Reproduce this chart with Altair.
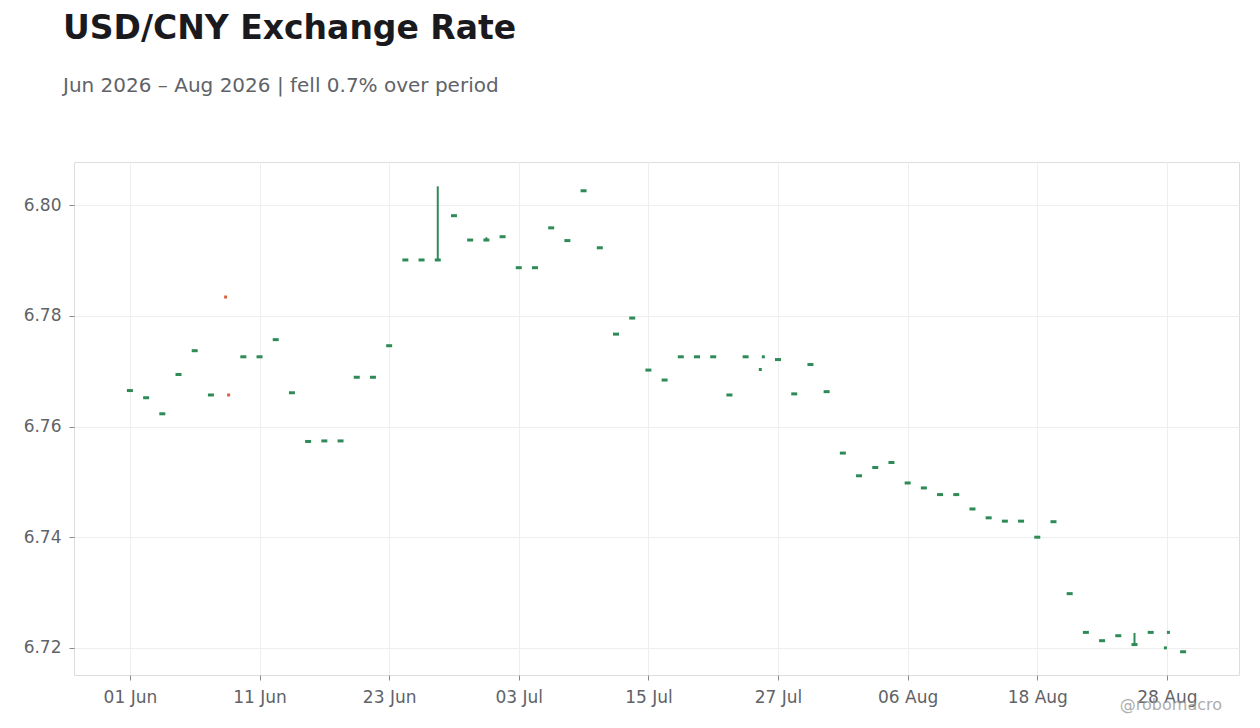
import altair as alt
import pandas as pd

# Business days Jun 1 - Aug 31 2026 (index axis, weekends skipped)
dates = [d.strftime("%d %b") for d in pd.bdate_range("2026-06-01", "2026-08-31")]

closes = [
    6.7665, 6.7652, 6.7623, 6.7694, 6.7737, 6.7657, 6.7657, 6.7726, 6.7726, 6.7757,
    6.7661, 6.7573, 6.7574, 6.7574, 6.7689, 6.7689, 6.7746, 6.7901, 6.7901, 6.7901,
    6.7981, 6.7937, 6.7937, 6.7943, 6.7887, 6.7887, 6.7959, 6.7936, 6.8026, 6.7923,
    6.7767, 6.7796, 6.7702, 6.7684, 6.7726, 6.7726, 6.7726, 6.7657, 6.7726, 6.7726,
    6.7721, 6.7659, 6.7712, 6.7663, 6.7552, 6.7511, 6.7526, 6.7535, 6.7498, 6.7489,
    6.7477, 6.7477, 6.7451, 6.7435, 6.7429, 6.7429, 6.7400, 6.7428, 6.7298, 6.7228,
    6.7213, 6.7222, 6.7206, 6.7228, 6.7228, 6.7193,
]
opens = list(closes)
opens[6] = 6.7834
opens[39] = 6.7703
opens[64] = 6.7200

highs = [max(o, c) for o, c in zip(opens, closes)]
lows = [min(o, c) for o, c in zip(opens, closes)]
highs[19] = 6.8034
highs[22] = 6.7942
highs[62] = 6.7227

tick_index = [0, 8, 16, 24, 32, 40, 48, 56, 64]
y_ticks = [6.72, 6.74, 6.76, 6.78, 6.80]

GREEN = "#2e8b57"
RED = "#d9603b"

df = pd.DataFrame({
    "i": list(range(len(dates))),
    "date": dates,
    "open": opens,
    "close": closes,
    "high": highs,
    "low": lows,
})

label_expr = "[" + ",".join("'%s'" % d for d in dates) + "][datum.value]"

x_enc = alt.X(
    "i:Q",
    scale=alt.Scale(domain=[-3.45, 68.45], nice=False, zero=False),
    axis=alt.Axis(values=tick_index, labelExpr=label_expr, title=None,
                  tickSize=5, labelPadding=9, grid=True),
)
y_scale = alt.Scale(domain=[6.7151, 6.8078], nice=False, zero=False)
y_axis = alt.Axis(values=y_ticks, format=".2f", title=None, tickSize=5,
                  labelPadding=8, grid=True)
color_scale = alt.Scale(domain=["up", "down"], range=[GREEN, RED])

base = alt.Chart(df).transform_calculate(
    dir="datum.close >= datum.open ? 'up' : 'down'",
    top="max(datum.open, datum.close)",
    bot="min(datum.open, datum.close)",
)

upper_wick = base.mark_rule(strokeWidth=2).encode(
    x=x_enc,
    y=alt.Y("high:Q", scale=y_scale, axis=y_axis),
    y2="top:Q",
    color=alt.Color("dir:N", scale=color_scale, legend=None),
)
lower_wick = base.mark_rule(strokeWidth=2).encode(
    x="i:Q",
    y=alt.Y("low:Q", scale=y_scale),
    y2="bot:Q",
    color=alt.Color("dir:N", scale=color_scale, legend=None),
)

body = base.transform_filter("datum.open == datum.close").mark_tick(
    orient="horizontal", size=6, thickness=3, opacity=1
).encode(
    x="i:Q",
    y=alt.Y("close:Q", scale=y_scale),
    color=alt.Color("dir:N", scale=color_scale, legend=None),
)

open_tick = base.transform_filter("datum.open != datum.close").mark_tick(
    orient="horizontal", size=3, thickness=3, opacity=1, xOffset=-1.5
).encode(
    x="i:Q",
    y=alt.Y("open:Q", scale=y_scale),
    color=alt.Color("dir:N", scale=color_scale, legend=None),
)

close_tick = base.transform_filter("datum.open != datum.close").mark_tick(
    orient="horizontal", size=3, thickness=3, opacity=1, xOffset=1.5
).encode(
    x="i:Q",
    y=alt.Y("close:Q", scale=y_scale),
    color=alt.Color("dir:N", scale=color_scale, legend=None),
)

watermark = alt.Chart(pd.DataFrame({"t": ["@robomacro"]})).mark_text(
    align="right", baseline="alphabetic", fontSize=16, color="#999999",
    opacity=0.8, font="DejaVu Sans",
).encode(text="t:N", x=alt.value(1148), y=alt.value(548))

chart = alt.layer(upper_wick, lower_wick, body, open_tick, close_tick, watermark).properties(
    width=1165,
    height=513,
    title=alt.TitleParams(
        text="USD/CNY Exchange Rate",
        subtitle="Jun 2026 – Aug 2026 | fell 0.7% over period",
        anchor="start",
        frame="group",
        dx=-11,
        offset=66,
        fontSize=33,
        fontWeight="bold",
        color="#1a1a1e",
        subtitleFontSize=20,
        subtitleColor="#5f6368",
        subtitlePadding=30,
        font="DejaVu Sans",
        subtitleFont="DejaVu Sans",
    ),
    autosize=alt.AutoSizeParams(type="none"),
    padding={"left": 66, "top": 154, "right": 13, "bottom": 45},
).configure_view(
    stroke="#dddddd", strokeWidth=1
).configure_axis(
    labelFont="DejaVu Sans",
    labelFontSize=17,
    labelColor="#5f6368",
    tickColor="#888888",
    gridColor="#eeeeee",
    domain=False,
)

chart.save("out.html", embed_options={"renderer": "svg", "actions": False})
